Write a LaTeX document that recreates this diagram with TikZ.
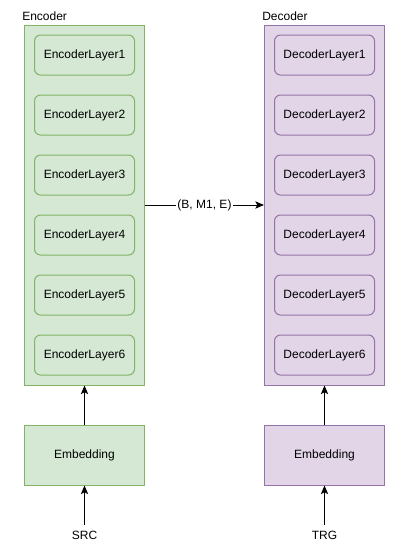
\documentclass[tikz,border=0pt]{standalone}
\usepackage{fontspec}
\setmainfont{Liberation Sans}
\usetikzlibrary{arrows.meta}
\definecolor{gfill}{HTML}{D5E8D4}
\definecolor{gline}{HTML}{82B366}
\definecolor{pfill}{HTML}{E1D5E7}
\definecolor{pline}{HTML}{9673A6}
\begin{document}
\begin{tikzpicture}[x=0.75pt,y=-0.75pt,
  font=\fontsize{9pt}{11pt}\selectfont,
  encbox/.style={draw=gline,fill=gfill,line width=0.75pt},
  decbox/.style={draw=pline,fill=pfill,line width=0.75pt},
  layer/.style={rounded corners=4.5pt,minimum width=75pt,minimum height=30pt,inner sep=0pt,line width=0.75pt},
  emb/.style={minimum width=90pt,minimum height=45pt,inner sep=0pt,line width=0.75pt},
  arr/.style={-{Stealth[length=6.5pt,width=5.5pt,inset=1.5pt]},line width=0.75pt},
  lbl/.style={anchor=west,inner sep=0pt}]
\useasboundingbox (0,0) rectangle (407,550);
% containers
\node[encbox,minimum width=90pt,minimum height=270pt,inner sep=0pt] (enc) at (84.5,205) {};
\node[decbox,minimum width=90pt,minimum height=270pt,inner sep=0pt] (dec) at (324.5,205) {};
\node[lbl] (enclbl) at (22,16) {Encoder};
\node[lbl] (declbl) at (262,16) {Decoder};
% layers
\foreach \i in {1,...,6} {
  \node[layer,encbox] (e\i) at (84.5,{55+60*(\i-1)}) {EncoderLayer\i};
  \node[layer,decbox] (d\i) at (324.5,{55+60*(\i-1)}) {DecoderLayer\i};
}
% embeddings
\node[emb,encbox] (eemb) at (84.5,455) {Embedding};
\node[emb,decbox] (demb) at (324.5,455) {Embedding};
\node (src) at (84.5,535) {SRC};
\node (trg) at (324.5,535) {TRG};
% arrows
\draw[arr] (enc.east) -- node[fill=white,inner sep=1pt] {(B, M1, E)} (dec.west);
\draw[arr] (eemb.north) -- (enc.south);
\draw[arr] (demb.north) -- (dec.south);
\draw[arr] (84.5,525) -- (eemb.south);
\draw[arr] (324.5,525) -- (demb.south);
\end{tikzpicture}
\end{document}
